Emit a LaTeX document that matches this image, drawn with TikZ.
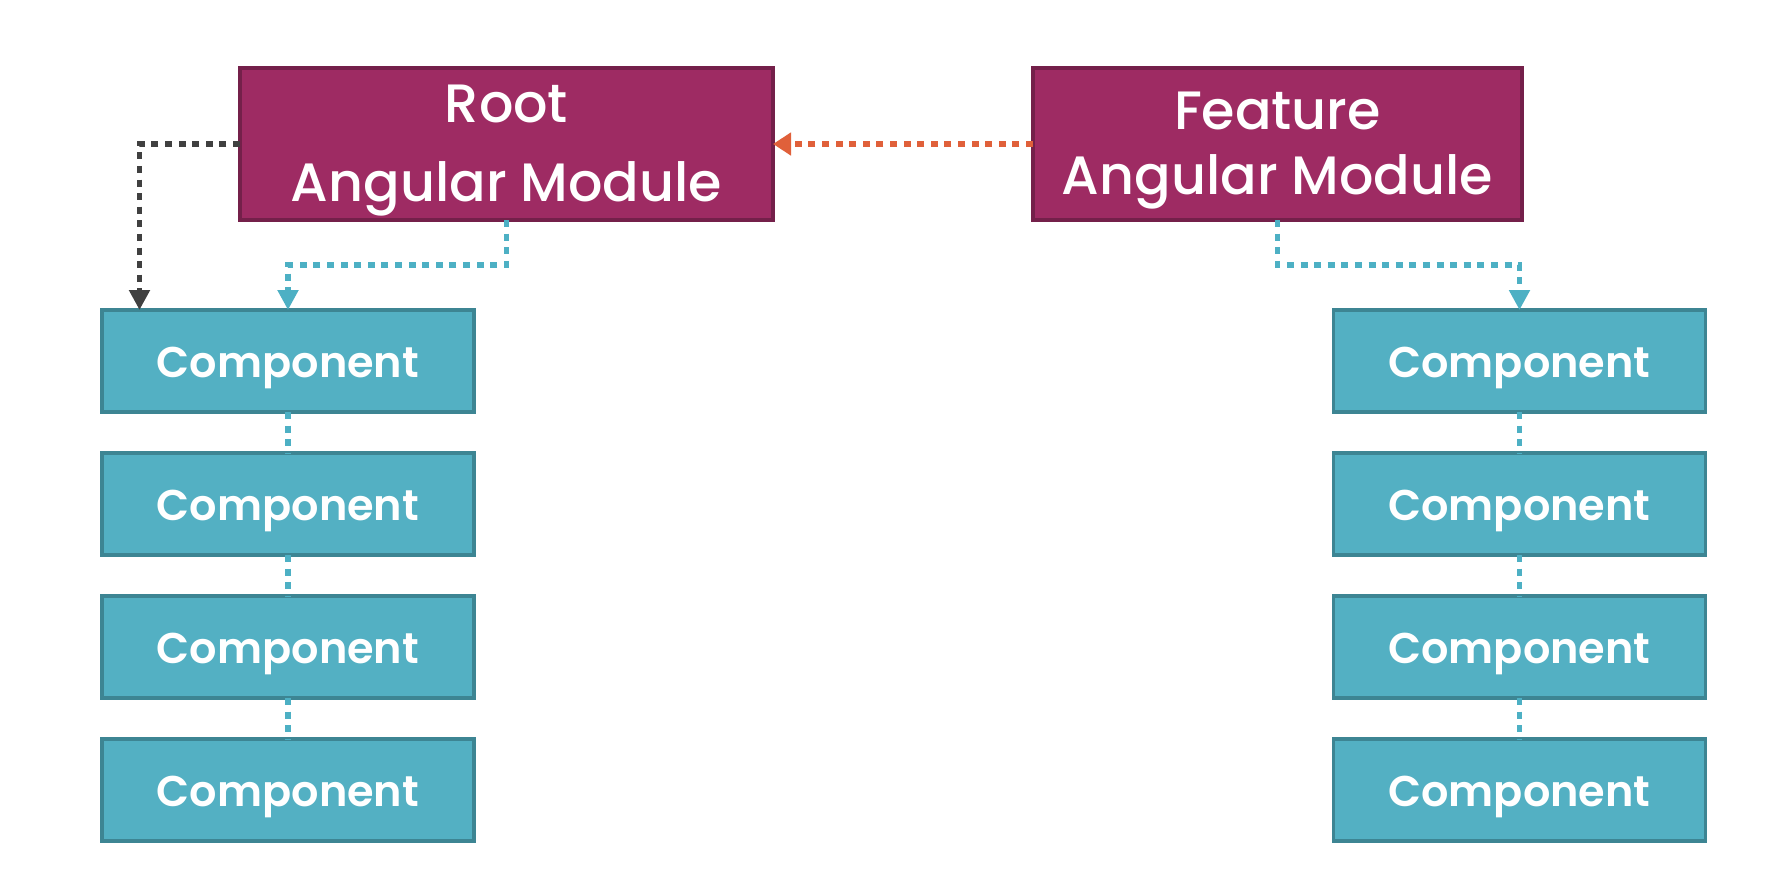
\documentclass[tikz,border=0pt]{standalone}
\usepackage{fontspec}
\setmainfont{Poppins}
\newfontfamily\compfont{Poppins SemiBold}
\newfontfamily\modfont{Poppins Medium}
\usetikzlibrary{arrows.meta,calc}
\definecolor{modfill}{HTML}{9E2B63}
\definecolor{moddraw}{HTML}{74204A}
\definecolor{compfill}{HTML}{53B0C3}
\definecolor{compdraw}{HTML}{3D8593}
\definecolor{linkteal}{HTML}{4DB0C4}
\definecolor{linkorange}{HTML}{E0603A}
\definecolor{linkgrey}{HTML}{404040}
\newcommand\lowered[2]{\raisebox{#1}[\height][\depth]{#2}}
\tikzset{
  modbox/.style={draw=moddraw,fill=modfill,line width=1.6pt,inner sep=0pt,outer sep=0pt,
    minimum height=76pt,text=white},
  compbox/.style={draw=compdraw,fill=compfill,line width=1.6pt,inner sep=0pt,outer sep=0pt,
    minimum width=186pt,minimum height=51pt,text=white,font=\compfont\fontsize{21.5}{26}\selectfont,
    text height=19pt,text depth=3pt},
  dotlink/.style={line width=2.8pt,dash pattern=on 3.5pt off 3.3pt},
  tealink/.style={dotlink,draw=linkteal},
  tealarrow/.style={tealink,-{Triangle[length=10pt,width=10pt]}},
}
\begin{document}
\begin{tikzpicture}[x=0.5pt,y=-0.5pt]
\fill[white] (0,0) rectangle (1766,884);
\useasboundingbox (0,0) rectangle (1766,884);
\node[modbox,minimum width=266.5pt,font=\modfont\fontsize{27}{29}\selectfont] (root) at (506.5,144)
  {\lowered{-3pt}{\begin{tabular}{@{}c@{}}Root\\[10.5pt]Angular Module\end{tabular}}};
\node[modbox,minimum width=244.5pt,font=\modfont\fontsize{27}{29}\selectfont] (feat) at (1277.5,144)
  {\lowered{-3pt}{\begin{tabular}{@{}c@{}}Feature\\[3.5pt]Angular Module\end{tabular}}};
\foreach \i/\y in {1/361,2/504,3/647,4/790}{
  \node[compbox] (lc\i) at (288,\y) {Component};
  \node[compbox] (rc\i) at (1519.5,\y) {Component};
}
\draw[dotlink,draw=linkorange,-{Triangle[length=9pt,width=11pt]}] (feat.west) -- (root.east);
\coordinate (gk) at ($(lc1.north west)+(37.5,0)$);
\draw[dotlink,draw=linkgrey,-{Triangle[length=10pt,width=10pt]}] (root.west) -| (gk);
\draw[tealarrow] (root.south) -- ++(0,45) -| (lc1.north);
\draw[tealarrow] (feat.south) -- ++(0,45) -| (rc1.north);
\foreach \a/\b in {1/2,2/3,3/4}{
  \draw[tealink] (lc\a.south) -- (lc\b.north);
  \draw[tealink] (rc\a.south) -- (rc\b.north);
}
\end{tikzpicture}
\end{document}
